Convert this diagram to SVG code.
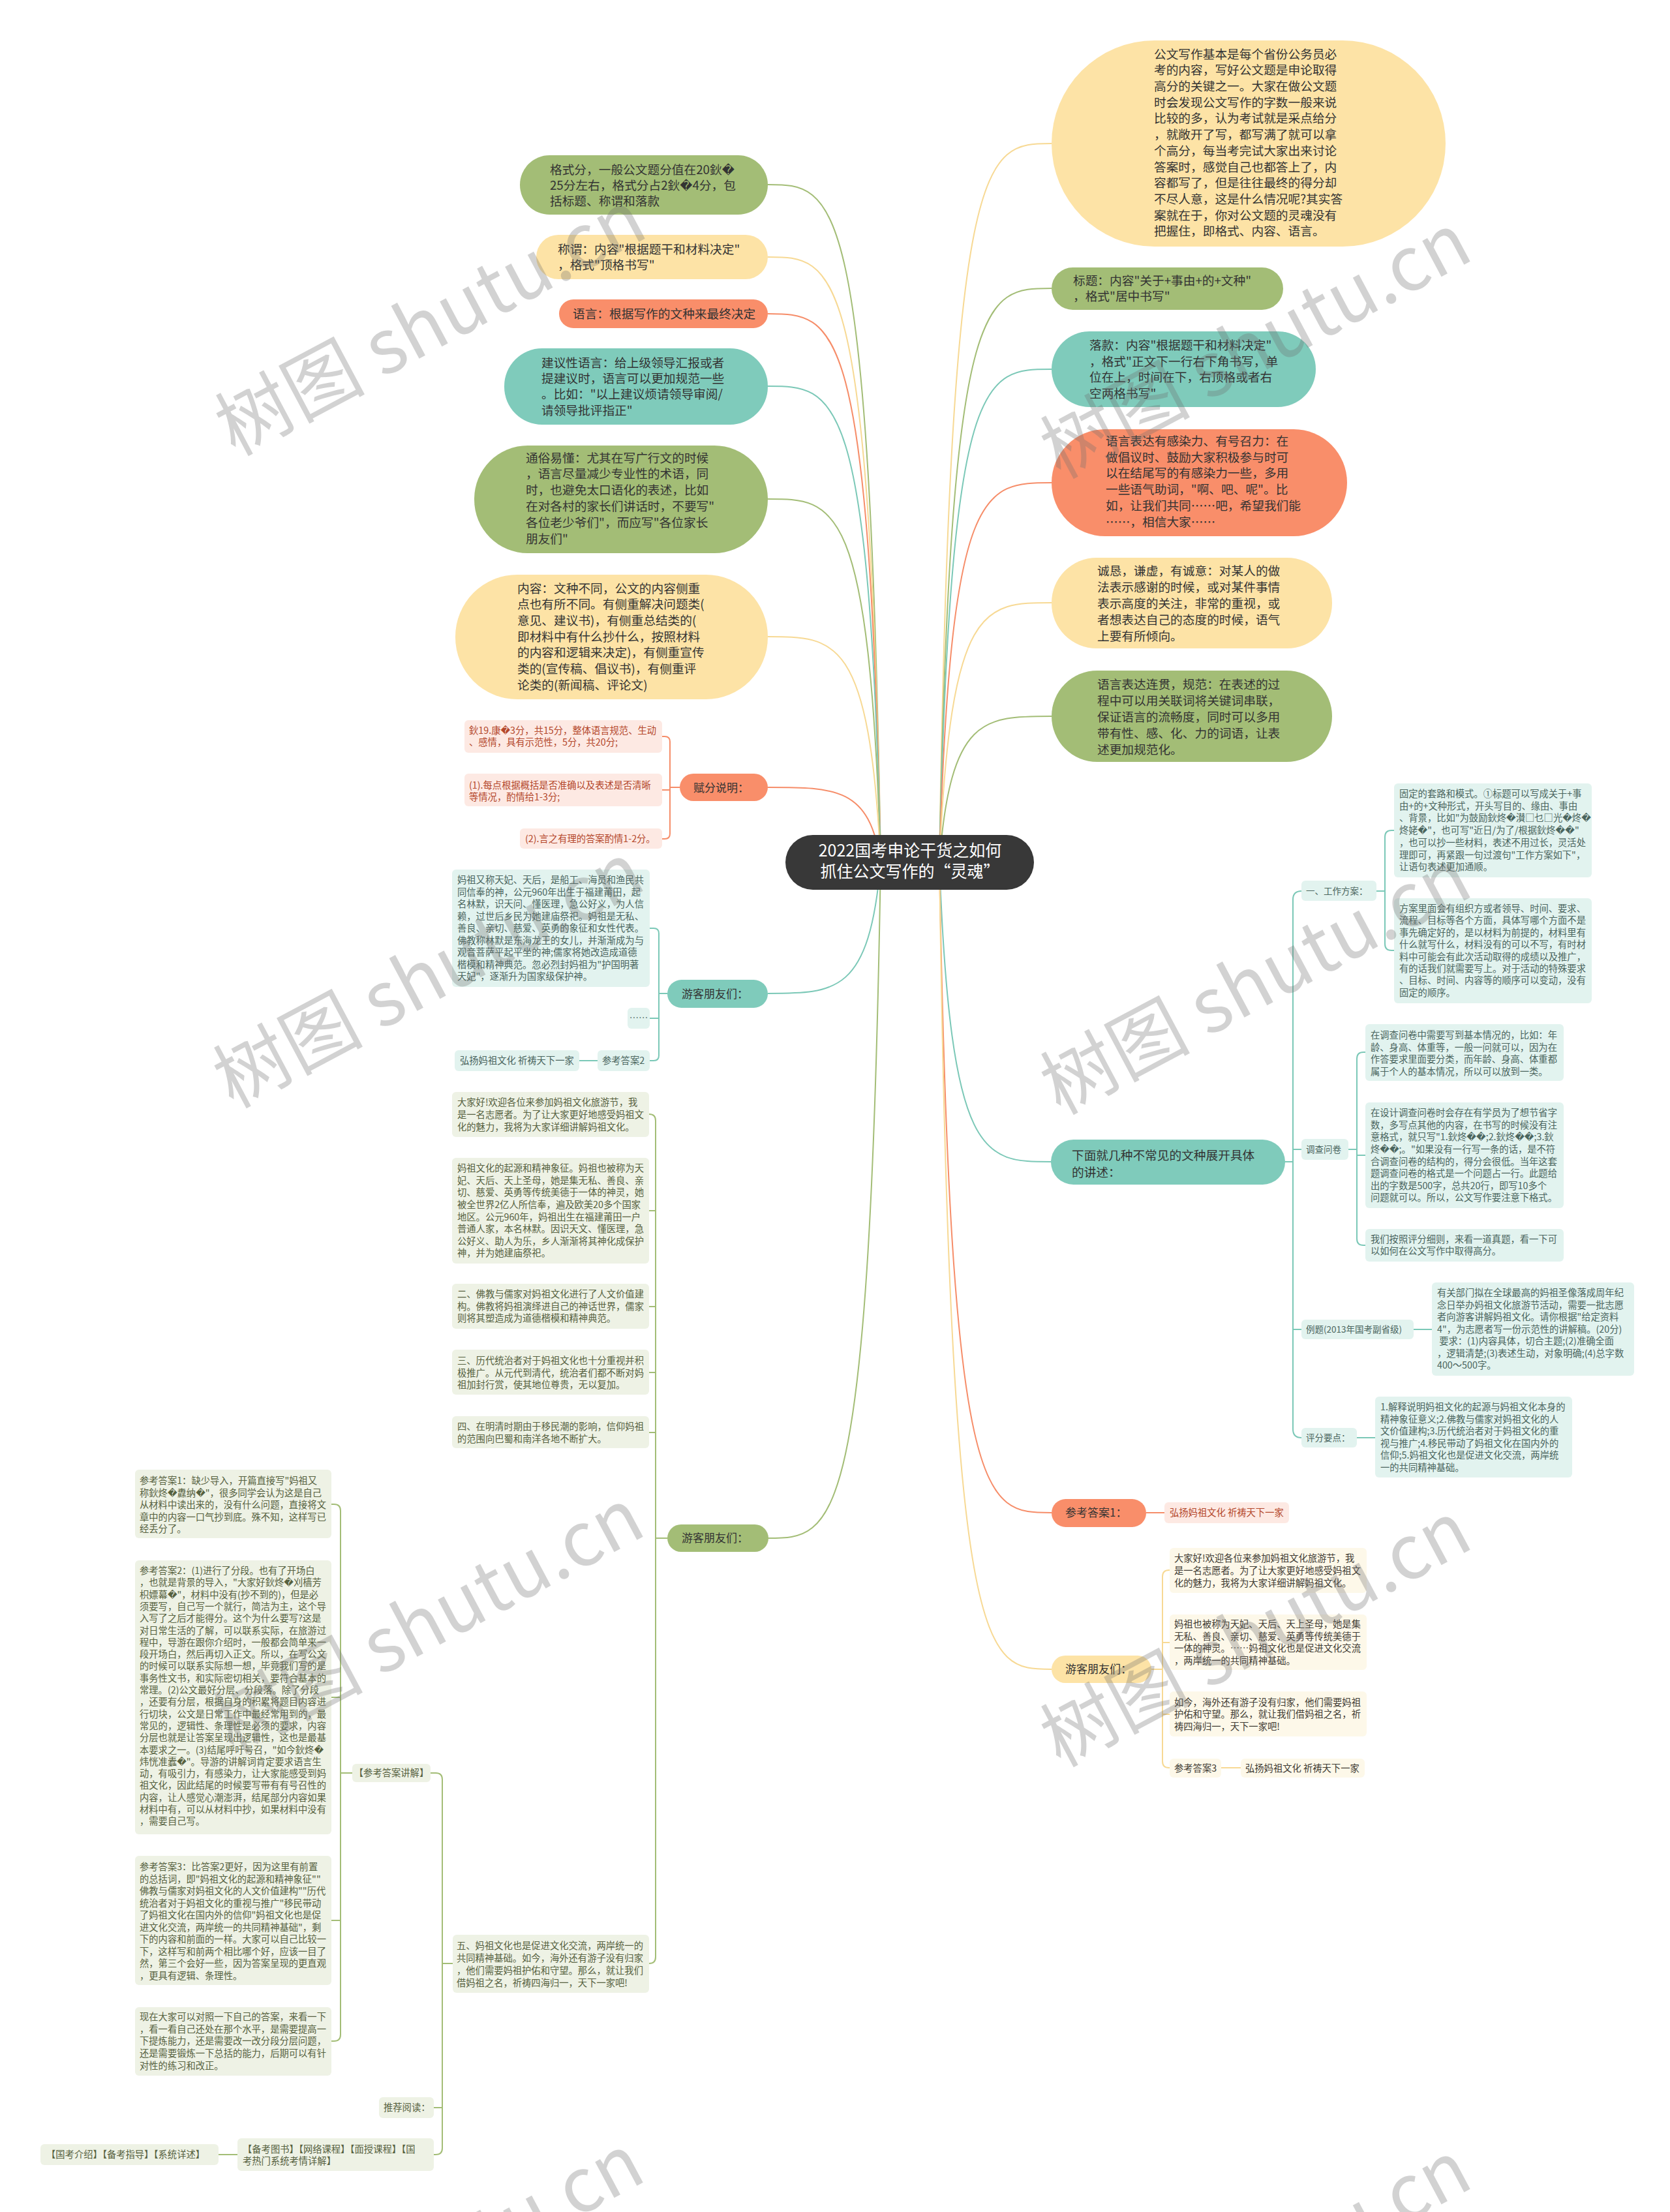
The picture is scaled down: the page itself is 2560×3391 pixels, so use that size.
<svg xmlns="http://www.w3.org/2000/svg" width="2560" height="3391" viewBox="0 0 2560 3391">
<style>
text{font-family:"Noto Sans CJK SC","Microsoft YaHei","DejaVu Sans",sans-serif}
.t1{font-size:18.7px;fill:#333}
.t2{font-size:17px;fill:#333}
.t3{font-size:14.3px}
.t4{font-size:13.5px}
.ts{fill:#b4472b}.tt{fill:#4a655e}.tg{fill:#56613f}.ty{fill:#3f3b33}
.G{fill:#a3bd76}.Y{fill:#fde3a6}.S{fill:#f98e6a}.T{fill:#7fcbbb}
.gs{fill:#fde9e3}.gt{fill:#e2f3ef}.gg{fill:#eef2e5}.gy{fill:#fdf8e9}
.c path{fill:none;stroke-width:2}
.cg{stroke:#a3bd76}.cy{stroke:#f7d994}.cs{stroke:#f68d69}.ct{stroke:#7bc8b7}
.wm{font-size:115px;fill:#6e6e6e;opacity:.3}
</style>
<rect width="2560" height="3391" fill="#fff"/>
<g id="connectors" class="c">
<path class="cy" d="M1440 1322 C1457 220 1508 220 1612 220"/>
<path class="cg" d="M1440 1322 C1457 442 1508 442 1612 442"/>
<path class="ct" d="M1440 1322 C1457 566 1508 566 1612 566"/>
<path class="cs" d="M1440 1322 C1457 740 1508 740 1612 740"/>
<path class="cy" d="M1440 1322 C1457 924 1508 924 1612 924"/>
<path class="cg" d="M1440 1322 C1457 1098 1508 1098 1612 1098"/>
<path class="ct" d="M1440 1322 C1457 1781 1508 1781 1611 1781"/>
<path class="cs" d="M1440 1322 C1457 2319 1508 2319 1612 2319"/>
<path class="cy" d="M1440 1322 C1457 2559 1508 2559 1612 2559"/>
<path class="cg" d="M1350 1322 C1333 283 1281 283 1177 283"/>
<path class="cy" d="M1350 1322 C1333 394 1281 394 1177 394"/>
<path class="cs" d="M1350 1322 C1333 481 1281 481 1177 481"/>
<path class="ct" d="M1350 1322 C1333 592 1281 592 1177 592"/>
<path class="cg" d="M1350 1322 C1333 765 1281 765 1177 765"/>
<path class="cy" d="M1350 1322 C1333 976 1281 976 1177 976"/>
<path class="cs" d="M1350 1322 C1333 1207 1281 1207 1177 1207"/>
<path class="ct" d="M1350 1322 C1333 1523 1281 1523 1177 1523"/>
<path class="cg" d="M1350 1322 C1333 2358 1281 2358 1177 2358"/>
<path class="cs" d="M1015 1129 H1019 Q1027 1129 1027 1137 V1278 Q1027 1286 1019 1286 H1015 M1042 1207 H1027 M1027 1211 H1015"/>
<path class="ct" d="M996 1423 H1002 Q1010 1423 1010 1431 V1618 Q1010 1626 1002 1626 H996 M1023 1523 H1010 M1010 1561 H996 M916 1626 H888"/>
<path class="cg" d="M995 1708 Q1005 1708 1005 1718 V3000 Q1005 3010 995 3010 M1023 2358 H1005 M1005 1856 H995 M1005 2003 H995 M1005 2104 H995 M1005 2196 H995"/>
<path class="cg" d="M660 2718 H668 Q678 2718 678 2728 V3293 Q678 3303 668 3303 H665 M694 3010 H678 M678 3231 H665 M364 3303 H335"/>
<path class="cg" d="M508 2306 H512 Q522 2306 522 2316 V3119 Q522 3129 512 3129 H508 M540 2718 H522 M522 2602 H508 M522 2944 H508"/>
<path class="ct" d="M1995 1366 Q1982 1366 1982 1379 V2191 Q1982 2204 1995 2204 M1970 1781 H1982 M1982 1762 H1995 M1982 2038 H1995"/>
<path class="ct" d="M2137 1273 H2133 Q2123 1273 2123 1283 V1447 Q2123 1457 2133 1457 H2137 M2110 1366 H2123"/>
<path class="ct" d="M2093 1613 H2090 Q2080 1613 2080 1623 V1899 Q2080 1909 2090 1909 H2093 M2067 1762 H2080 M2080 1771 H2093"/>
<path class="ct" d="M2167 2038 H2195 M2080 2204 H2108"/>
<path class="cs" d="M1757 2319 H1785"/>
<path class="cy" d="M1793 2407 H1792 Q1782 2407 1782 2417 V2700 Q1782 2710 1792 2710 H1793 M1765 2559 H1782 M1782 2518 H1793 M1782 2628 H1793 M1872 2710 H1902"/>
</g>
<g id="root"><rect x="1204" y="1280" width="381" height="84" rx="42" fill="#383838"/><text x="1395" font-size="25" fill="#fff" text-anchor="middle"><tspan x="1395" y="1313">2022国考申论干货之如何</tspan><tspan x="1395" y="1345">抓住公文写作的“灵魂”</tspan></text></g>
<g id="n-geshi"><rect class="G" x="797" y="238" width="380" height="91" rx="45.5"/><text class="t1"><tspan x="843" y="267">格式分，一般公文题分值在20鈥�</tspan><tspan x="843" y="291">25分左右，格式分占2鈥�4分，包</tspan><tspan x="843" y="315">括标题、称谓和落款</tspan></text></g>
<g id="n-chengwei"><rect class="Y" x="822" y="360" width="355" height="68" rx="34"/><text class="t1"><tspan x="855" y="389">称谓：内容"根据题干和材料决定"</tspan><tspan x="855" y="413">，格式"顶格书写"</tspan></text></g>
<g id="n-yuyan"><rect class="S" x="857" y="459" width="320" height="44" rx="22"/><text class="t1" x="878" y="488">语言：根据写作的文种来最终决定</text></g>
<g id="n-jianyi"><rect class="T" x="773" y="534" width="404" height="117" rx="58"/><text class="t1"><tspan x="830" y="563">建议性语言：给上级领导汇报或者</tspan><tspan x="830" y="587">提建议时，语言可以更加规范一些</tspan><tspan x="830" y="611">。比如："以上建议烦请领导审阅/</tspan><tspan x="830" y="636">请领导批评指正"</tspan></text></g>
<g id="n-tongsu"><rect class="G" x="727" y="683" width="450" height="165" rx="82"/><text class="t1"><tspan x="806" y="709">通俗易懂：尤其在写广行文的时候</tspan><tspan x="806" y="733">，语言尽量减少专业性的术语，同</tspan><tspan x="806" y="758">时，也避免太口语化的表述，比如</tspan><tspan x="806" y="783">在对各村的家长们讲话时，不要写"</tspan><tspan x="806" y="808">各位老少爷们"，而应写"各位家长</tspan><tspan x="806" y="833">朋友们"</tspan></text></g>
<g id="n-neirong"><rect class="Y" x="698" y="881" width="479" height="191" rx="95"/><text class="t1"><tspan x="793" y="909">内容：文种不同，公文的内容侧重</tspan><tspan x="793" y="933">点也有所不同。有侧重解决问题类(</tspan><tspan x="793" y="958">意见、建议书)，有侧重总结类的(</tspan><tspan x="793" y="983">即材料中有什么抄什么，按照材料</tspan><tspan x="793" y="1007">的内容和逻辑来决定)，有侧重宣传</tspan><tspan x="793" y="1032">类的(宣传稿、倡议书)，有侧重评</tspan><tspan x="793" y="1057">论类的(新闻稿、评论文)</tspan></text></g>
<g id="n-fufen"><rect class="S" x="1042" y="1186" width="135" height="42" rx="21"/><text class="t2" x="1063" y="1214">赋分说明：</text></g>
<g id="n-fufen-a"><rect class="gs" x="712" y="1104" width="303" height="50" rx="6"/><text class="t3 ts"><tspan x="719" y="1125">鈥19.康�3分，共15分，整体语言规范、生动</tspan><tspan x="719" y="1143">、感情，具有示范性，5分，共20分;</tspan></text></g>
<g id="n-fufen-b"><rect class="gs" x="712" y="1186" width="303" height="50" rx="6"/><text class="t3 ts"><tspan x="719" y="1209">(1).每点根据概括是否准确以及表述是否清晰</tspan><tspan x="719" y="1227">等情况，酌情给1-3分;</tspan></text></g>
<g id="n-fufen-c"><rect class="gs" x="797" y="1270" width="218" height="31" rx="6"/><text class="t3 ts" x="805" y="1291">(2).言之有理的答案酌情1-2分。</text></g>
<g id="n-youke1"><rect class="T" x="1023" y="1502" width="154" height="43" rx="21.5"/><text class="t2" x="1045" y="1530">游客朋友们：</text></g>
<g id="n-youke1-d"><rect class="gt" x="693" y="1333" width="303" height="180" rx="6"/><text class="t3 tt"><tspan x="701" y="1354">妈祖又称天妃、天后，是船工、海员和渔民共</tspan><tspan x="701" y="1373">同信奉的神，公元960年出生于福建莆田，起</tspan><tspan x="701" y="1391">名林默，识天问、懂医理，急公好义，为人信</tspan><tspan x="701" y="1410">赖，过世后乡民为她建庙祭祀。妈祖是无私、</tspan><tspan x="701" y="1428">善良、亲切、慈爱、英勇的象征和女性代表。</tspan><tspan x="701" y="1447">佛教称林默是东海龙王的女儿，并渐渐成为与</tspan><tspan x="701" y="1465">观音菩萨平起平坐的神;儒家将她改造成道德</tspan><tspan x="701" y="1484">楷模和精神典范。忽必烈封妈祖为"护国明著</tspan><tspan x="701" y="1502">天妃"，逐渐升为国家级保护神。</tspan></text></g>
<g id="n-youke1-e"><rect class="gt" x="962" y="1545" width="34" height="32" rx="6"/><text class="t3 tt" x="979" y="1566" text-anchor="middle">……</text></g>
<g id="n-youke1-f"><rect class="gt" x="916" y="1610" width="80" height="32" rx="6"/><text class="t3 tt" x="923" y="1631">参考答案2</text></g>
<g id="n-youke1-g"><rect class="gt" x="697" y="1610" width="191" height="32" rx="6"/><text class="t3 tt" x="705" y="1631">弘扬妈祖文化 祈祷天下一家</text></g>
<g id="n-youke2"><rect class="G" x="1023" y="2337" width="155" height="42" rx="21"/><text class="t2" x="1045" y="2364">游客朋友们：</text></g>
<g id="n-youke2-h"><rect class="gg" x="693" y="1674" width="302" height="69" rx="6"/><text class="t3 tg"><tspan x="701" y="1695">大家好!欢迎各位来参加妈祖文化旅游节，我</tspan><tspan x="701" y="1714">是一名志愿者。为了让大家更好地感受妈祖文</tspan><tspan x="701" y="1733">化的魅力，我将为大家详细讲解妈祖文化。</tspan></text></g>
<g id="n-youke2-i"><rect class="gg" x="693" y="1775" width="302" height="162" rx="6"/><text class="t3 tg"><tspan x="701" y="1796">妈祖文化的起源和精神象征。妈祖也被称为天</tspan><tspan x="701" y="1815">妃、天后、天上圣母，她是集无私、善良、亲</tspan><tspan x="701" y="1833">切、慈爱、英勇等传统美德于一体的神灵，她</tspan><tspan x="701" y="1852">被全世界2亿人所信奉，遍及欧美20多个国家</tspan><tspan x="701" y="1871">地区。公元960年，妈祖出生在福建莆田一户</tspan><tspan x="701" y="1889">普通人家，本名林默。因识天文、懂医理，急</tspan><tspan x="701" y="1908">公好义、助人为乐，乡人渐渐将其神化成保护</tspan><tspan x="701" y="1926">神，并为她建庙祭祀。</tspan></text></g>
<g id="n-youke2-j"><rect class="gg" x="693" y="1968" width="302" height="69" rx="6"/><text class="t3 tg"><tspan x="701" y="1989">二、佛教与儒家对妈祖文化进行了人文价值建</tspan><tspan x="701" y="2008">构。佛教将妈祖演绎进自己的神话世界，儒家</tspan><tspan x="701" y="2026">则将其塑造成为道德楷模和精神典范。</tspan></text></g>
<g id="n-youke2-k"><rect class="gg" x="693" y="2069" width="302" height="69" rx="6"/><text class="t3 tg"><tspan x="701" y="2091">三、历代统治者对于妈祖文化也十分重视并积</tspan><tspan x="701" y="2110">极推广。从元代到清代，统治者们都不断对妈</tspan><tspan x="701" y="2128">祖加封行赏，使其地位尊贵，无以复加。</tspan></text></g>
<g id="n-youke2-l"><rect class="gg" x="693" y="2171" width="302" height="49" rx="6"/><text class="t3 tg"><tspan x="701" y="2192">四、在明清时期由于移民潮的影响，信仰妈祖</tspan><tspan x="701" y="2211">的范围向巴蜀和南洋各地不断扩大。</tspan></text></g>
<g id="n-youke2-m"><rect class="gg" x="694" y="2966" width="301" height="89" rx="6"/><text class="t3 tg"><tspan x="700" y="2988">五、妈祖文化也是促进文化交流，两岸统一的</tspan><tspan x="700" y="3007">共同精神基础。如今，海外还有游子没有归家</tspan><tspan x="700" y="3026">，他们需要妈祖护佑和守望。那么，就让我们</tspan><tspan x="700" y="3045">借妈祖之名，祈祷四海归一，天下一家吧!</tspan></text></g>
<g id="n-jiangjie"><rect class="gg" x="540" y="2704" width="120" height="28" rx="6"/><text class="t3 tg" x="600" y="2723" text-anchor="middle">【参考答案讲解】</text></g>
<g id="n-ans1"><rect class="gg" x="207" y="2253" width="301" height="105" rx="6"/><text class="t3 tg"><tspan x="214" y="2275">参考答案1：缺少导入，开篇直接写"妈祖又</tspan><tspan x="214" y="2294">称鈥炵�纛纳�"，很多同学会认为这是自己</tspan><tspan x="214" y="2312">从材料中读出来的，没有什么问题，直接将文</tspan><tspan x="214" y="2331">章中的内容一口气抄到底。殊不知，这样写已</tspan><tspan x="214" y="2349">经丢分了。</tspan></text></g>
<g id="n-ans2"><rect class="gg" x="207" y="2392" width="301" height="420" rx="6"/><text class="t3 tg"><tspan x="214" y="2413">参考答案2：(1)进行了分段。也有了开场白</tspan><tspan x="214" y="2431">，也就是背景的导入，"大家好鈥炵�刈樯芳</tspan><tspan x="214" y="2450">枳嫖幕�"，材料中没有(抄不到的)，但是必</tspan><tspan x="214" y="2468">须要写，自己写一个就行，简洁为主，这个导</tspan><tspan x="214" y="2486">入写了之后才能得分。这个为什么要写?这是</tspan><tspan x="214" y="2505">对日常生活的了解，可以联系实际，在旅游过</tspan><tspan x="214" y="2523">程中，导游在跟你介绍时，一般都会简单来一</tspan><tspan x="214" y="2541">段开场白，然后再切入正文。所以，在写公文</tspan><tspan x="214" y="2559">的时候可以联系实际想一想，毕竟我们写的是</tspan><tspan x="214" y="2578">事务性文书，和实际密切相关，要符合基本的</tspan><tspan x="214" y="2596">常理。(2)公文最好分层、分段落。除了分段</tspan><tspan x="214" y="2614">，还要有分层，根据自身的积累将题目内容进</tspan><tspan x="214" y="2633">行切块，公文是日常工作中最经常用到的，最</tspan><tspan x="214" y="2651">常见的，逻辑性、条理性是必须的要求，内容</tspan><tspan x="214" y="2669">分层也就是让答案呈现出逻辑性，这也是最基</tspan><tspan x="214" y="2688">本要求之一。(3)结尾呼吁号召，"如今鈥炵�</tspan><tspan x="214" y="2706">炜恍准蠹�"。导游的讲解词肯定要求语言生</tspan><tspan x="214" y="2724">动，有吸引力，有感染力，让大家能感受到妈</tspan><tspan x="214" y="2742">祖文化，因此结尾的时候要写带有有号召性的</tspan><tspan x="214" y="2761">内容，让人感觉心潮澎湃，结尾部分内容如果</tspan><tspan x="214" y="2779">材料中有，可以从材料中抄，如果材料中没有</tspan><tspan x="214" y="2797">，需要自己写。</tspan></text></g>
<g id="n-ans3"><rect class="gg" x="207" y="2845" width="301" height="198" rx="6"/><text class="t3 tg"><tspan x="214" y="2867">参考答案3：比答案2更好，因为这里有前置</tspan><tspan x="214" y="2886">的总括词，即"妈祖文化的起源和精神象征""</tspan><tspan x="214" y="2904">佛教与儒家对妈祖文化的人文价值建构""历代</tspan><tspan x="214" y="2923">统治者对于妈祖文化的重视与推广"移民带动</tspan><tspan x="214" y="2941">了妈祖文化在国内外的信仰"妈祖文化也是促</tspan><tspan x="214" y="2960">进文化交流，两岸统一的共同精神基础"，剩</tspan><tspan x="214" y="2978">下的内容和前面的一样。大家可以自己比较一</tspan><tspan x="214" y="2997">下，这样写和前两个相比哪个好，应该一目了</tspan><tspan x="214" y="3015">然，第三个会好一些，因为答案呈现的更直观</tspan><tspan x="214" y="3034">，更具有逻辑、条理性。</tspan></text></g>
<g id="n-ans4"><rect class="gg" x="207" y="3077" width="301" height="105" rx="6"/><text class="t3 tg"><tspan x="214" y="3097">现在大家可以对照一下自己的答案，来看一下</tspan><tspan x="214" y="3116">，看一看自己还处在那个水平，是需要提高一</tspan><tspan x="214" y="3134">下提炼能力，还是需要改一改分段分层问题，</tspan><tspan x="214" y="3153">还是需要锻炼一下总括的能力，后期可以有针</tspan><tspan x="214" y="3172">对性的练习和改正。</tspan></text></g>
<g id="n-tuijian"><rect class="gg" x="581" y="3215" width="84" height="32" rx="6"/><text class="t3 tg" x="588" y="3236">推荐阅读：</text></g>
<g id="n-beikao"><rect class="gg" x="364" y="3278" width="301" height="50" rx="6"/><text class="t3 tg"><tspan x="372" y="3300">【备考图书】【网络课程】【面授课程】【国</tspan><tspan x="372" y="3318">考热门系统考情详解】</tspan></text></g>
<g id="n-guokao"><rect class="gg" x="62" y="3287" width="273" height="32" rx="6"/><text class="t3 tg" x="71" y="3308">【国考介绍】【备考指导】【系统详述】</text></g>
<g id="n-gongwen"><rect class="Y" x="1612" y="62" width="604" height="316" rx="158"/><text class="t1"><tspan x="1769" y="90">公文写作基本是每个省份公务员必</tspan><tspan x="1769" y="114">考的内容，写好公文题是申论取得</tspan><tspan x="1769" y="139">高分的关键之一。大家在做公文题</tspan><tspan x="1769" y="164">时会发现公文写作的字数一般来说</tspan><tspan x="1769" y="188">比较的多，认为考试就是采点给分</tspan><tspan x="1769" y="213">，就敞开了写，都写满了就可以拿</tspan><tspan x="1769" y="238">个高分，每当考完试大家出来讨论</tspan><tspan x="1769" y="263">答案时，感觉自己也都答上了，内</tspan><tspan x="1769" y="287">容都写了，但是往往最终的得分却</tspan><tspan x="1769" y="312">不尽人意，这是什么情况呢?其实答</tspan><tspan x="1769" y="337">案就在于，你对公文题的灵魂没有</tspan><tspan x="1769" y="361">把握住，即格式、内容、语言。</tspan></text></g>
<g id="n-biaoti"><rect class="G" x="1612" y="410" width="355" height="65" rx="32.5"/><text class="t1"><tspan x="1645" y="437">标题：内容"关于+事由+的+文种"</tspan><tspan x="1645" y="461">，格式"居中书写"</tspan></text></g>
<g id="n-luokuan"><rect class="T" x="1612" y="508" width="405" height="116" rx="58"/><text class="t1"><tspan x="1670" y="536">落款：内容"根据题干和材料决定"</tspan><tspan x="1670" y="561">，格式"正文下一行右下角书写，单</tspan><tspan x="1670" y="585">位在上，时间在下，右顶格或者右</tspan><tspan x="1670" y="610">空两格书写"</tspan></text></g>
<g id="n-ganran"><rect class="S" x="1612" y="658" width="453" height="164" rx="82"/><text class="t1"><tspan x="1695" y="683">语言表达有感染力、有号召力：在</tspan><tspan x="1695" y="708">做倡议时、鼓励大家积极参与时可</tspan><tspan x="1695" y="732">以在结尾写的有感染力一些，多用</tspan><tspan x="1695" y="757">一些语气助词，"啊、吧、呢"。比</tspan><tspan x="1695" y="782">如，让我们共同……吧，希望我们能</tspan><tspan x="1695" y="807">……，相信大家……</tspan></text></g>
<g id="n-chengken"><rect class="Y" x="1612" y="855" width="430" height="139" rx="69"/><text class="t1"><tspan x="1682" y="882">诚恳，谦虚，有诚意：对某人的做</tspan><tspan x="1682" y="907">法表示感谢的时候，或对某件事情</tspan><tspan x="1682" y="932">表示高度的关注，非常的重视，或</tspan><tspan x="1682" y="957">者想表达自己的态度的时候，语气</tspan><tspan x="1682" y="982">上要有所倾向。</tspan></text></g>
<g id="n-liangua"><rect class="G" x="1612" y="1028" width="430" height="140" rx="70"/><text class="t1"><tspan x="1682" y="1056">语言表达连贯，规范：在表述的过</tspan><tspan x="1682" y="1081">程中可以用关联词将关键词串联，</tspan><tspan x="1682" y="1106">保证语言的流畅度，同时可以多用</tspan><tspan x="1682" y="1131">带有性、感、化、力的词语，让表</tspan><tspan x="1682" y="1156">述更加规范化。</tspan></text></g>
<g id="n-xiamian"><rect class="T" x="1611" y="1747" width="359" height="69" rx="34.5"/><text class="t1"><tspan x="1643" y="1778">下面就几种不常见的文种展开具体</tspan><tspan x="1643" y="1804">的讲述：</tspan></text></g>
<g id="n-gongzuo"><rect class="gt" x="1995" y="1350" width="115" height="31" rx="6"/><text class="t4 tt" x="2002" y="1371">一、工作方案：</text></g>
<g id="n-gongzuo-a"><rect class="gt" x="2137" y="1201" width="303" height="144" rx="6"/><text class="t3 tt"><tspan x="2145" y="1222">固定的套路和模式。①标题可以写成关于+事</tspan><tspan x="2145" y="1241">由+的+文种形式，开头写目的、缘由、事由</tspan><tspan x="2145" y="1259">、背景，比如"为鼓励鈥炵�濽□乜□光�炵�</tspan><tspan x="2145" y="1278">炵姥�"，也可写"近日/为了/根据鈥炵��"</tspan><tspan x="2145" y="1297">，也可以抄一些材料，表述不用过长，灵活处</tspan><tspan x="2145" y="1316">理即可，再紧跟一句过渡句"工作方案如下"，</tspan><tspan x="2145" y="1334">让语句表述更加通顺。</tspan></text></g>
<g id="n-gongzuo-b"><rect class="gt" x="2137" y="1377" width="303" height="161" rx="6"/><text class="t3 tt"><tspan x="2145" y="1398">方案里面会有组织方或者领导、时间、要求、</tspan><tspan x="2145" y="1416">流程、目标等各个方面，具体写哪个方面不是</tspan><tspan x="2145" y="1435">事先确定好的，是以材料为前提的，材料里有</tspan><tspan x="2145" y="1453">什么就写什么，材料没有的可以不写，有时材</tspan><tspan x="2145" y="1472">料中可能会有此次活动取得的成绩以及推广，</tspan><tspan x="2145" y="1490">有的话我们就需要写上。对于活动的特殊要求</tspan><tspan x="2145" y="1508">、目标、时间、内容等的顺序可以变动，没有</tspan><tspan x="2145" y="1527">固定的顺序。</tspan></text></g>
<g id="n-diaocha"><rect class="gt" x="1995" y="1746" width="72" height="32" rx="6"/><text class="t4 tt" x="2002" y="1767">调查问卷</text></g>
<g id="n-diaocha-c"><rect class="gt" x="2093" y="1570" width="304" height="87" rx="6"/><text class="t3 tt"><tspan x="2101" y="1592">在调查问卷中需要写到基本情况的，比如：年</tspan><tspan x="2101" y="1611">龄、身高、体重等，一般一问就可以，因为在</tspan><tspan x="2101" y="1629">作答要求里面要分类，而年龄、身高、体重都</tspan><tspan x="2101" y="1648">属于个人的基本情况，所以可以放到一类。</tspan></text></g>
<g id="n-diaocha-d"><rect class="gt" x="2093" y="1690" width="304" height="162" rx="6"/><text class="t3 tt"><tspan x="2101" y="1711">在设计调查问卷时会存在有学员为了想节省字</tspan><tspan x="2101" y="1730">数，多写点其他的内容，在书写的时候没有注</tspan><tspan x="2101" y="1748">意格式，就只写"1.鈥炵��;2.鈥炵��;3.鈥</tspan><tspan x="2101" y="1767">炵��;。"如果没有一行写一条的话，是不符</tspan><tspan x="2101" y="1786">合调查问卷的结构的，得分会很低。当年这套</tspan><tspan x="2101" y="1804">题调查问卷的格式是一个问题占一行。此题给</tspan><tspan x="2101" y="1823">出的字数是500字，总共20行，即写10多个</tspan><tspan x="2101" y="1841">问题就可以。所以，公文写作要注意下格式。</tspan></text></g>
<g id="n-diaocha-e"><rect class="gt" x="2093" y="1884" width="304" height="50" rx="6"/><text class="t3 tt"><tspan x="2101" y="1905">我们按照评分细则，来看一道真题，看一下可</tspan><tspan x="2101" y="1923">以如何在公文写作中取得高分。</tspan></text></g>
<g id="n-liti"><rect class="gt" x="1995" y="2023" width="172" height="30" rx="6"/><text class="t4 tt" x="2002" y="2043">例题(2013年国考副省级)</text></g>
<g id="n-liti-f"><rect class="gt" x="2195" y="1966" width="310" height="143" rx="6"/><text class="t3 tt"><tspan x="2203" y="1987">有关部门拟在全球最高的妈祖圣像落成周年纪</tspan><tspan x="2203" y="2006">念日举办妈祖文化旅游节活动，需要一批志愿</tspan><tspan x="2203" y="2024">者向游客讲解妈祖文化。请你根据"给定资料</tspan><tspan x="2203" y="2043">4"，为志愿者写一份示范性的讲解稿。(20分)</tspan><tspan x="2203" y="2061"> 要求：(1)内容具体，切合主题;(2)准确全面</tspan><tspan x="2203" y="2080">，逻辑清楚;(3)表述生动，对象明确;(4)总字数</tspan><tspan x="2203" y="2098">400～500字。</tspan></text></g>
<g id="n-pingfen"><rect class="gt" x="1995" y="2189" width="85" height="30" rx="6"/><text class="t4 tt" x="2002" y="2209">评分要点：</text></g>
<g id="n-pingfen-g"><rect class="gt" x="2108" y="2141" width="302" height="124" rx="6"/><text class="t3 tt"><tspan x="2116" y="2162">1.解释说明妈祖文化的起源与妈祖文化本身的</tspan><tspan x="2116" y="2181">精神象征意义;2.佛教与儒家对妈祖文化的人</tspan><tspan x="2116" y="2199">文价值建构;3.历代统治者对于妈祖文化的重</tspan><tspan x="2116" y="2218">视与推广;4.移民带动了妈祖文化在国内外的</tspan><tspan x="2116" y="2236">信仰;5.妈祖文化也是促进文化交流，两岸统</tspan><tspan x="2116" y="2255">一的共同精神基础。</tspan></text></g>
<g id="n-cankao1"><rect class="S" x="1612" y="2298" width="145" height="43" rx="21.5"/><text class="t2" x="1633" y="2325">参考答案1：</text></g>
<g id="n-cankao1-a"><rect class="gs" x="1785" y="2303" width="191" height="32" rx="6"/><text class="t3 ts" x="1793" y="2324">弘扬妈祖文化 祈祷天下一家</text></g>
<g id="n-youke3"><rect class="Y" x="1612" y="2538" width="153" height="42" rx="21"/><text class="t2" x="1633" y="2565">游客朋友们：</text></g>
<g id="n-youke3-p"><rect class="gy" x="1793" y="2373" width="302" height="69" rx="6"/><text class="t3 ty"><tspan x="1800" y="2394">大家好!欢迎各位来参加妈祖文化旅游节，我</tspan><tspan x="1800" y="2413">是一名志愿者。为了让大家更好地感受妈祖文</tspan><tspan x="1800" y="2432">化的魅力，我将为大家详细讲解妈祖文化。</tspan></text></g>
<g id="n-youke3-q"><rect class="gy" x="1793" y="2475" width="302" height="85" rx="6"/><text class="t3 ty"><tspan x="1800" y="2495">妈祖也被称为天妃、天后、天上圣母，她是集</tspan><tspan x="1800" y="2514">无私、善良、亲切、慈爱、英勇等传统美德于</tspan><tspan x="1800" y="2532">一体的神灵。……妈祖文化也是促进文化交流</tspan><tspan x="1800" y="2551">，两岸统一的共同精神基础。</tspan></text></g>
<g id="n-youke3-r"><rect class="gy" x="1793" y="2593" width="302" height="69" rx="6"/><text class="t3 ty"><tspan x="1800" y="2615">如今，海外还有游子没有归家，他们需要妈祖</tspan><tspan x="1800" y="2633">护佑和守望。那么，就让我们借妈祖之名，祈</tspan><tspan x="1800" y="2652">祷四海归一，天下一家吧!</tspan></text></g>
<g id="n-youke3-s"><rect class="gy" x="1793" y="2696" width="79" height="29" rx="6"/><text class="t3 ty" x="1800" y="2716">参考答案3</text></g>
<g id="n-youke3-t"><rect class="gy" x="1902" y="2696" width="190" height="29" rx="6"/><text class="t3 ty" x="1909" y="2716">弘扬妈祖文化 祈祷天下一家</text></g>
<g id="watermarks">
<text class="wm" x="360" y="700" transform="rotate(-28 360 700)">树图 shutu.cn</text>
<text class="wm" x="1625" y="735" transform="rotate(-28 1625 735)">树图 shutu.cn</text>
<text class="wm" x="357" y="1700" transform="rotate(-28 357 1700)">树图 shutu.cn</text>
<text class="wm" x="1625" y="1710" transform="rotate(-28 1625 1710)">树图 shutu.cn</text>
<text class="wm" x="357" y="2690" transform="rotate(-28 357 2690)">树图 shutu.cn</text>
<text class="wm" x="1625" y="2710" transform="rotate(-28 1625 2710)">树图 shutu.cn</text>
<text class="wm" x="357" y="3680" transform="rotate(-28 357 3680)">树图 shutu.cn</text>
<text class="wm" x="1625" y="3690" transform="rotate(-28 1625 3690)">树图 shutu.cn</text>
</g>
</svg>
